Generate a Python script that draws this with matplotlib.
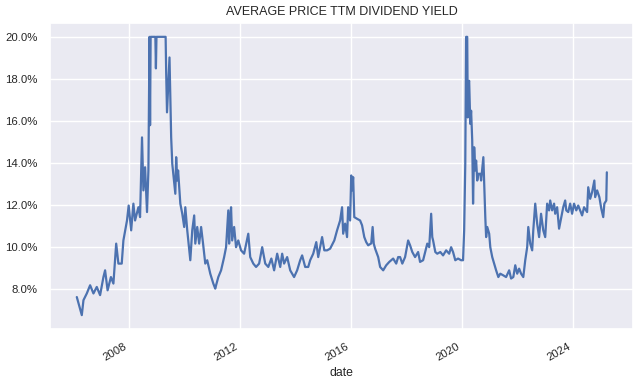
import numpy as np
import pandas as pd
import matplotlib
matplotlib.use("Agg")
import matplotlib.pyplot as plt
import matplotlib.dates as mdates
from matplotlib.ticker import PercentFormatter
import seaborn as sns

# decimal-year dates
years = [
    2006.13, 2006.31, 2006.37, 2006.49, 2006.61, 2006.73, 2006.85, 2006.97, 2007.09, 2007.15,
    2007.24, 2007.36, 2007.45, 2007.55, 2007.63, 2007.75, 2007.81, 2007.94, 2008.00, 2008.09,
    2008.17, 2008.23, 2008.35, 2008.41, 2008.48, 2008.53, 2008.59, 2008.66, 2008.71, 2008.75,
    2008.77, 2008.79, 2008.96, 2008.98, 2009.00, 2009.33, 2009.35, 2009.38, 2009.47, 2009.53,
    2009.57, 2009.68, 2009.71, 2009.75, 2009.78, 2009.86, 2009.93, 2010.00, 2010.04, 2010.11,
    2010.22, 2010.29, 2010.36, 2010.40, 2010.47, 2010.54, 2010.61, 2010.68, 2010.76, 2010.83,
    2010.94, 2011.05, 2011.12, 2011.15, 2011.23, 2011.33, 2011.44, 2011.51, 2011.59, 2011.62,
    2011.66, 2011.69, 2011.73, 2011.80, 2011.87, 2011.95, 2012.05, 2012.16, 2012.31, 2012.38,
    2012.49, 2012.59, 2012.70, 2012.81, 2012.92, 2013.03, 2013.14, 2013.24, 2013.35, 2013.46,
    2013.53, 2013.60, 2013.71, 2013.82, 2013.89, 2013.96, 2014.07, 2014.18, 2014.25, 2014.36,
    2014.47, 2014.54, 2014.65, 2014.76, 2014.83, 2014.90, 2014.97, 2015.05, 2015.15, 2015.26,
    2015.41, 2015.51, 2015.62, 2015.69, 2015.73, 2015.80, 2015.87, 2015.91, 2015.98, 2016.02,
    2016.05, 2016.09, 2016.13, 2016.23, 2016.34, 2016.41, 2016.49, 2016.56, 2016.63, 2016.74,
    2016.79, 2016.83, 2016.88, 2016.99, 2017.06, 2017.17, 2017.28, 2017.39, 2017.53, 2017.64,
    2017.71, 2017.78, 2017.86, 2017.96, 2018.07, 2018.14, 2018.22, 2018.32, 2018.43, 2018.50,
    2018.61, 2018.76, 2018.83, 2018.90, 2018.94, 2018.97, 2019.05, 2019.12, 2019.23, 2019.33,
    2019.44, 2019.55, 2019.62, 2019.69, 2019.77, 2019.87, 2019.98, 2020.05, 2020.09, 2020.13,
    2020.16, 2020.20, 2020.22, 2020.23, 2020.27, 2020.31, 2020.34, 2020.38, 2020.41, 2020.45,
    2020.49, 2020.52, 2020.56, 2020.60, 2020.67, 2020.70, 2020.78, 2020.81, 2020.85, 2020.88,
    2020.92, 2020.99, 2021.03, 2021.10, 2021.17, 2021.24, 2021.32, 2021.39, 2021.50, 2021.60,
    2021.71, 2021.78, 2021.86, 2021.93, 2022.00, 2022.07, 2022.14, 2022.22, 2022.29, 2022.36,
    2022.40, 2022.47, 2022.54, 2022.58, 2022.65, 2022.72, 2022.79, 2022.86, 2022.94, 2023.01,
    2023.08, 2023.15, 2023.19, 2023.26, 2023.33, 2023.37, 2023.44, 2023.51, 2023.59, 2023.66,
    2023.73, 2023.77, 2023.84, 2023.91, 2023.98, 2024.05, 2024.13, 2024.20, 2024.27, 2024.34,
    2024.41, 2024.52, 2024.56, 2024.63, 2024.70, 2024.78, 2024.81, 2024.88, 2024.96, 2025.03,
    2025.10, 2025.14, 2025.21, 2025.23,
]

# dividend yield in percent
yield_pct = [
    7.63, 6.77, 7.48, 7.80, 8.19, 7.80, 8.11, 7.72, 8.58, 8.90,
    7.95, 8.58, 8.27, 10.17, 9.22, 9.22, 10.32, 11.27, 11.98, 10.80,
    12.07, 11.27, 11.90, 11.43, 15.22, 12.70, 13.80, 11.67, 13.65, 20.00,
    15.80, 20.00, 20.00, 18.50, 20.00, 20.00, 18.30, 16.41, 19.02, 15.22,
    13.96, 12.54, 14.28, 13.17, 13.65, 12.07, 11.59, 10.96, 11.90, 10.80,
    9.38, 10.80, 11.51, 10.17, 10.96, 10.17, 10.96, 10.17, 9.22, 9.38,
    8.74, 8.27, 8.03, 8.19, 8.58, 8.90, 9.53, 10.00, 11.75, 10.17,
    11.43, 11.90, 10.32, 10.96, 10.00, 10.32, 9.85, 9.69, 10.64, 9.53,
    9.22, 9.06, 9.22, 10.00, 9.22, 9.06, 9.46, 8.90, 9.69, 9.06,
    9.69, 9.22, 9.53, 8.90, 8.74, 8.58, 8.90, 9.38, 9.61, 9.06,
    9.06, 9.38, 9.69, 10.24, 9.53, 10.00, 10.48, 9.85, 9.85, 9.93,
    10.32, 10.80, 11.27, 11.90, 10.64, 11.12, 10.48, 11.90, 11.27, 13.41,
    12.70, 13.33, 11.43, 11.35, 11.27, 11.04, 10.48, 10.24, 10.09, 10.18,
    10.96, 10.17, 9.93, 9.53, 9.06, 8.90, 9.14, 9.30, 9.46, 9.22,
    9.53, 9.53, 9.22, 9.53, 10.32, 10.09, 9.77, 9.53, 9.77, 9.30,
    9.38, 10.17, 10.00, 11.59, 10.48, 10.32, 9.77, 9.69, 9.77, 9.61,
    9.85, 9.69, 10.00, 9.77, 9.38, 9.46, 9.38, 9.38, 10.80, 13.96,
    20.00, 20.00, 16.17, 17.76, 17.91, 15.86, 16.49, 15.07, 12.07, 14.75,
    13.65, 14.12, 13.17, 13.49, 13.49, 13.17, 14.28, 13.01, 11.43, 10.48,
    10.96, 10.64, 10.00, 9.53, 9.22, 8.90, 8.58, 8.74, 8.66, 8.58,
    8.90, 8.51, 8.58, 9.14, 8.74, 8.98, 8.74, 8.58, 9.38, 10.00,
    10.96, 10.17, 9.85, 10.80, 12.07, 11.12, 10.48, 11.59, 10.80, 10.48,
    12.07, 11.75, 12.22, 11.75, 12.07, 11.59, 11.90, 10.88, 11.43, 11.90,
    12.22, 11.75, 11.67, 12.07, 11.59, 12.07, 11.75, 11.98, 11.75, 11.51,
    11.90, 11.67, 12.85, 12.30, 12.62, 13.17, 12.38, 12.70, 12.38, 11.83,
    11.43, 12.07, 12.22, 13.56,
]

title_text = "AVERAGE PRICE TTM DIVIDEND YIELD"
x_label = "date"


def decimal_year_to_ts(y):
    yr = int(np.floor(y))
    start = pd.Timestamp(year=yr, month=1, day=1)
    end = pd.Timestamp(year=yr + 1, month=1, day=1)
    return start + (end - start) * (y - yr)


dates = [decimal_year_to_ts(y) for y in years]
series = pd.Series(yield_pct, index=pd.DatetimeIndex(dates, name="date"))

sns.set_theme(style="darkgrid")
plt.rcParams["font.family"] = ["Liberation Sans", "DejaVu Sans"]

fig = plt.figure(figsize=(6.4, 3.84), dpi=100)
ax = fig.add_axes([0.0786, 0.1432, 0.911, 0.797])
ax.plot(series.index, series.values, color="#4c72b0", linewidth=1.6)

ax.xaxis.set_major_locator(mdates.YearLocator(4))
ax.xaxis.set_major_formatter(mdates.DateFormatter("%Y"))
ax.yaxis.set_major_formatter(PercentFormatter(xmax=100, decimals=1))
ax.set_yticks([8, 10, 12, 14, 16, 18, 20])
ax.set_ylim(6.11, 20.66)
ax.margins(x=0.05)

for lbl in ax.get_xticklabels():
    lbl.set_rotation(30)
    lbl.set_ha("right")
ax.tick_params(axis="both", labelsize=8.2, colors="#262626", pad=3)
ax.set_xlabel(x_label, fontsize=8.8, color="#262626", labelpad=3)
ax.set_title(title_text, fontsize=9, color="#262626", pad=6)

fig.savefig("out.png", dpi=100)
